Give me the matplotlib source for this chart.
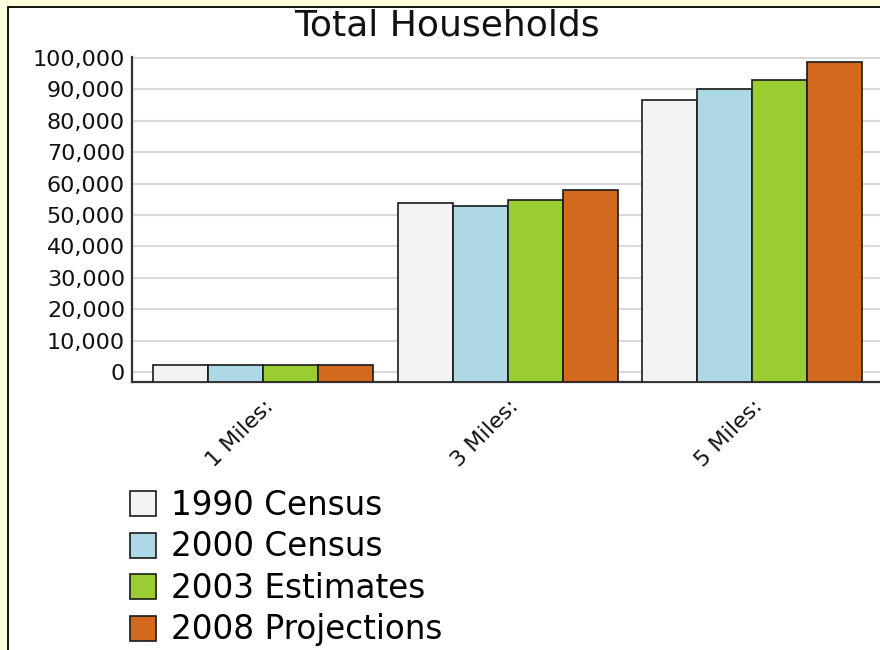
import numpy as np
import matplotlib
matplotlib.use("Agg")
import matplotlib.pyplot as plt
from matplotlib.patches import Rectangle
from matplotlib.ticker import FuncFormatter

# data
categories = ["1 Miles:", "3 Miles:", "5 Miles:"]
series_names = ["1990 Census", "2000 Census", "2003 Estimates", "2008 Projections"]
census_1990 = [2200, 53700, 86800]
census_2000 = [2200, 53000, 90000]
estimates_2003 = [2200, 54800, 93000]
projections_2008 = [2200, 57900, 98600]
series_values = [census_1990, census_2000, estimates_2003, projections_2008]
colors = ["#f3f3f3", "#add8e6", "#9acd32", "#d2691e"]

plt.rcParams["font.family"] = "DejaVu Sans"

fig = plt.figure(figsize=(8.8, 6.5), dpi=100)
fig.patch.set_facecolor("#ffffdc")

# white panel with dark border (left and top visible)
fig.patches.append(Rectangle((7.5 / 880, -0.1), 1.2, 1.1 - 7 / 650,
                             transform=fig.transFigure, facecolor="white",
                             edgecolor="black", linewidth=1.3, zorder=-10))

ax = fig.add_axes([132 / 880, 1 - 382 / 650, 1 - 132 / 880, (382 - 57) / 650])
ax.set_facecolor("white")

ymin, ymax = -3200, 100350
x = np.arange(len(categories))
width = 0.225
offsets = (np.arange(len(series_names)) - 1.5) * width

for i, (name, vals) in enumerate(zip(series_names, series_values)):
    vals = np.array(vals)
    ax.bar(x + offsets[i], vals - ymin, width, bottom=ymin, color=colors[i],
           edgecolor="#1a1a1a", linewidth=1.2, label=name, zorder=3)

ax.set_ylim(ymin, ymax)
ax.set_xlim(-131.5 / 245, 2 + 128 / 245)
ax.set_yticks(np.arange(0, 100001, 10000))
ax.yaxis.set_major_formatter(FuncFormatter(lambda v, p: f"{int(v):,}"))
ax.grid(axis="y", color="#d9d9d9", linewidth=1.5, zorder=0)
ax.set_axisbelow(True)

ax.set_xticks(x)
ax.set_xticklabels(categories, rotation=45, ha="right", rotation_mode="anchor")
ax.tick_params(axis="both", length=0, labelsize=16, colors="#111111")
ax.tick_params(axis="y", pad=5)
ax.tick_params(axis="x", pad=10)

for side in ["top", "right"]:
    ax.spines[side].set_visible(False)
for side in ["left", "bottom"]:
    ax.spines[side].set_color("#333333")
    ax.spines[side].set_linewidth(1.6)

fig.text(447 / 880, 1 - 25 / 650, "Total Households", ha="center", va="center",
         fontsize=26, color="#111111")

ax.legend(loc="upper left", bbox_to_anchor=(130 / 880, 1 - 489 / 650),
          bbox_transform=fig.transFigure, frameon=False, fontsize=23.5,
          handlelength=0.8, handleheight=0.8, handletextpad=0.46,
          labelspacing=0.26, borderpad=0, borderaxespad=0)

fig.savefig("out.png", dpi=100, facecolor=fig.get_facecolor())
